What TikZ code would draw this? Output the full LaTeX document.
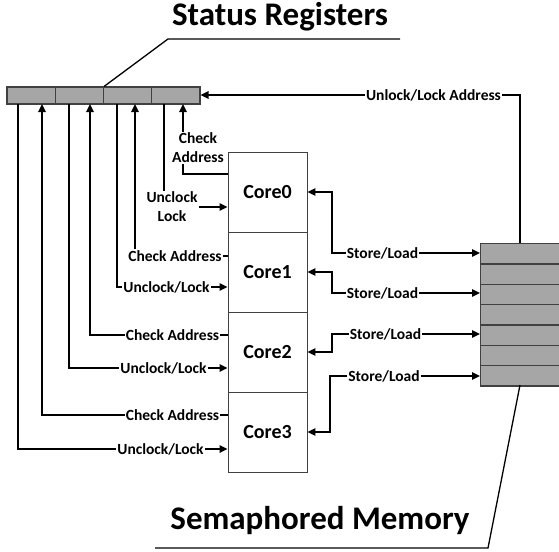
\documentclass[tikz,border=0pt]{standalone}
\usepackage{fontspec}
\setmainfont{Carlito}
\usetikzlibrary{arrows.meta}
\definecolor{cellgray}{HTML}{A6A6A6}
\definecolor{edgegray}{HTML}{404040}
\tikzset{
  wire/.style={line width=1.5pt, draw=black},
  arr/.style={wire, -{Triangle[length=8pt,width=7.5pt]}},
  lbl/.style={font=\bfseries\fontsize{15.5}{19}\selectfont, inner sep=1pt, align=center},
  title/.style={font=\bfseries\fontsize{33}{36}\selectfont, inner sep=0pt},
  core/.style={draw=edgegray, line width=0.9pt, minimum width=79pt, minimum height=80pt, inner sep=0pt, font=\bfseries\fontsize{20}{24}\selectfont},
  srcell/.style={draw=edgegray, fill=cellgray, line width=1.2pt, minimum width=48.25pt, minimum height=17pt, inner sep=0pt},
  memcell/.style={draw=edgegray, fill=cellgray, line width=1.4pt, minimum width=85pt, minimum height=20.3pt, inner sep=0pt, anchor=north west},
  leader/.style={line width=1.3pt, draw=black}
}
\begin{document}
\begin{tikzpicture}[x=1pt,y=-1pt]
\useasboundingbox (0,0) rectangle (559,551);
\begin{scope}
\clip (0,0) rectangle (559,551);
% status registers
\node[srcell] (sr1) at (31.1,95.5) {};
\node[srcell] (sr2) at (79.4,95.5) {};
\node[srcell] (sr3) at (127.6,95.5) {};
\node[srcell] (sr4) at (175.9,95.5) {};
% memory
\node[memcell] (m1) at (480,243) {};
\node[memcell] (m2) at (480,263.3) {};
\node[memcell] (m3) at (480,283.6) {};
\node[memcell] (m4) at (480,303.9) {};
\node[memcell] (m5) at (480,324.2) {};
\node[memcell] (m6) at (480,344.5) {};
\node[memcell] (m7) at (480,364.8) {};
\end{scope}
% cores
\node[core] (core0) at (267.5,192) {Core0};
\node[core] (core1) at (267.5,272) {Core1};
\node[core] (core2) at (267.5,352) {Core2};
\node[core] (core3) at (267.5,432) {Core3};
% titles
\node[title] (tsr) at (280,17) {Status Registers};
\node[title] (tsm) at (320,521) {Semaphored Memory};
\coordinate (sra) at (168,39);
\coordinate (srb) at (400,39);
\draw[leader] (sr2.north east) -- (sra) -- (srb);
\coordinate (smt) at (520,385);
\coordinate (sma) at (488,548);
\coordinate (smb) at (155,548);
\draw[leader] (smt) -- (sma) -- (smb);
% bar bottom coordinates
\coordinate (b1) at (18,104);
\coordinate (b2) at (42,104);
\coordinate (b3) at (69,104);
\coordinate (b4) at (90,104);
\coordinate (b5) at (117,104);
\coordinate (b6) at (135,104);
\coordinate (b7) at (164,104);
\coordinate (b8) at (183,104);
% labels
\node[lbl] (ca0) at (198,148) {Check\\Address};
\node[lbl] (ul0) at (172,207) {Unclock\\Lock};
\node[lbl] (ca1) at (175,256) {Check Address};
\node[lbl] (ul1) at (166.5,287) {Unclock/Lock};
\node[lbl] (ca2) at (172.5,335) {Check Address};
\node[lbl] (ul2) at (163.5,368) {Unclock/Lock};
\node[lbl] (ca3) at (172.5,415) {Check Address};
\node[lbl] (ul3) at (160.5,449) {Unclock/Lock};
% core0
\coordinate (c0ca) at (228,174);
\draw[wire] (c0ca) -| (ca0.south -| b8);
\draw[arr] (ca0.north -| b8) -- (b8);
\draw[wire] (b7) -- (ul0.north -| b7);
\draw[arr] (ul0.east) -- (ul0.east -| core0.west);
% core1
\draw[wire] (ca1.east) -- (ca1.east -| core1.west);
\draw[arr] (ca1.north -| b6) -- (b6);
\draw[wire] (b5) |- (ul1.west);
\draw[arr] (ul1.east) -- (ul1.east -| core1.west);
% core2
\draw[wire] (ca2.east) -- (ca2.east -| core2.west);
\draw[arr] (ca2.west) -| (b4);
\draw[wire] (b3) |- (ul2.west);
\draw[arr] (ul2.east) -- (ul2.east -| core2.west);
% core3
\draw[wire] (ca3.east) -- (ca3.east -| core3.west);
\draw[arr] (ca3.west) -| (b2);
\draw[wire] (b1) |- (ul3.west);
\draw[arr] (ul3.east) -- (ul3.east -| core3.west);
% unlock/lock address
\node[lbl] (ula) at (433.5,95) {Unlock/Lock Address};
\coordinate (mtop) at (520,243);
\draw[wire] (mtop) |- (ula.east);
\draw[arr] (ula.west) -- (ula.west -| sr4.east);
% store/load
\node[lbl] (sl0) at (382.5,253) {Store/Load};
\node[lbl] (sl1) at (382.5,293) {Store/Load};
\node[lbl] (sl2) at (385.5,334) {Store/Load};
\node[lbl] (sl3) at (384,376) {Store/Load};
\coordinate (k0) at (332,192);
\coordinate (k1) at (332,272);
\coordinate (k2) at (332,352);
\coordinate (k3) at (330,432);
\draw[arr] (sl0.west) -| (k0) -- (k0 -| core0.east);
\draw[arr] (sl0.east) -- (sl0.east -| m1.west);
\draw[arr] (sl1.west) -| (k1) -- (k1 -| core1.east);
\draw[arr] (sl1.east) -- (sl1.east -| m1.west);
\draw[arr] (sl2.west) -| (k2) -- (k2 -| core2.east);
\draw[arr] (sl2.east) -- (sl2.east -| m1.west);
\draw[arr] (sl3.west) -| (k3) -- (k3 -| core3.east);
\draw[arr] (sl3.east) -- (sl3.east -| m1.west);
\end{tikzpicture}
\end{document}
